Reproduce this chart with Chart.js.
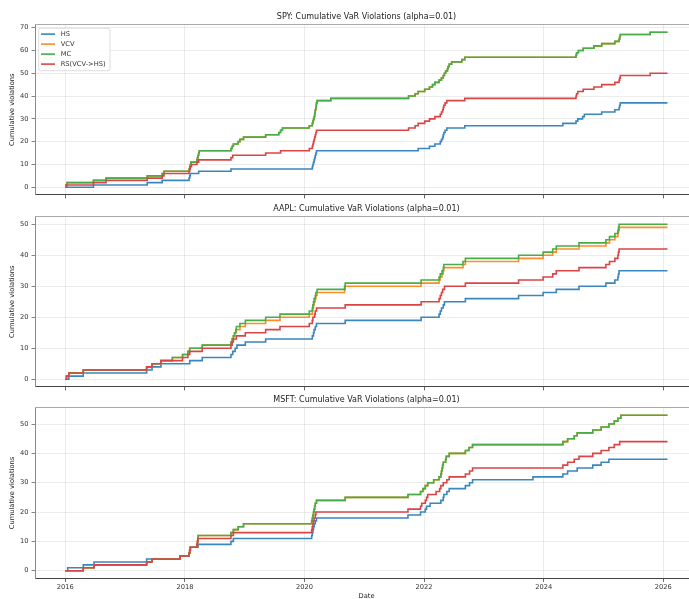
<!DOCTYPE html>
<html><head><meta charset="utf-8">
<script src="https://cdn.jsdelivr.net/npm/chart.js@4.4.0/dist/chart.umd.min.js"></script>
<style>
html,body{margin:0;padding:0;background:#fff;width:689px;height:599px;overflow:hidden;position:relative}
canvas{position:absolute;left:0}
</style></head><body>
<canvas id="c1" width="720" height="195" style="top:7px"></canvas>
<canvas id="c2" width="720" height="195" style="top:199px"></canvas>
<canvas id="c3" width="720" height="210" style="top:390px"></canvas>
<script>
// ---------------- data ----------------
const seriesNames = ['HS', 'VCV', 'MC', 'RS(VCV->HS)'];
const xTickYears = [2016, 2018, 2020, 2022, 2024, 2026];
const spyYTicks = [0, 10, 20, 30, 40, 50, 60, 70];
const aaplYTicks = [0, 10, 20, 30, 40, 50];
const msftYTicks = [0, 10, 20, 30, 40, 50];
const panelTitles = ['SPY: Cumulative VaR Violations (alpha=0.01)', 'AAPL: Cumulative VaR Violations (alpha=0.01)', 'MSFT: Cumulative VaR Violations (alpha=0.01)'];

const spyHS = [[2016.00,0],[2016.47,1],[2017.37,2],[2017.62,3],[2018.07,4],[2018.08,5],[2018.09,6],[2018.23,7],[2018.77,8],[2020.13,9],[2020.14,10],[2020.15,11],[2020.16,12],[2020.17,13],[2020.18,14],[2020.19,15],[2020.20,16],[2021.90,17],[2022.09,18],[2022.18,19],[2022.27,20],[2022.29,21],[2022.31,22],[2022.32,23],[2022.33,24],[2022.35,25],[2022.38,26],[2022.68,27],[2024.32,28],[2024.54,29],[2024.57,30],[2024.65,31],[2024.68,32],[2024.97,33],[2025.19,34],[2025.26,35],[2025.27,36],[2025.28,37],[2026.07,37]];
const spyMC = [[2016.00,0],[2016.01,1],[2016.03,2],[2016.47,3],[2016.68,4],[2017.37,5],[2017.62,6],[2017.65,7],[2018.07,8],[2018.08,9],[2018.09,10],[2018.10,11],[2018.20,12],[2018.21,13],[2018.22,14],[2018.23,15],[2018.24,16],[2018.77,17],[2018.79,18],[2018.81,19],[2018.89,20],[2018.92,21],[2018.98,22],[2019.35,23],[2019.57,24],[2019.60,25],[2019.63,26],[2020.08,27],[2020.13,28],[2020.14,29],[2020.15,30],[2020.16,31],[2020.17,32],[2020.175,33],[2020.18,34],[2020.19,35],[2020.195,36],[2020.20,37],[2020.21,38],[2020.44,39],[2021.74,40],[2021.85,41],[2021.90,42],[2022.01,43],[2022.09,44],[2022.14,45],[2022.18,46],[2022.25,47],[2022.29,48],[2022.32,49],[2022.34,50],[2022.36,51],[2022.39,52],[2022.40,53],[2022.42,54],[2022.46,55],[2022.63,56],[2022.68,57],[2024.54,58],[2024.55,59],[2024.58,60],[2024.66,61],[2024.84,62],[2024.97,63],[2025.19,64],[2025.26,65],[2025.27,66],[2025.28,67],[2025.78,68],[2026.07,68]];
const spyVCV = [[2016.00,0],[2016.01,1],[2016.03,2],[2016.47,3],[2016.68,4],[2017.37,5],[2017.62,6],[2017.65,7],[2018.07,8],[2018.08,9],[2018.09,10],[2018.10,11],[2018.20,12],[2018.21,13],[2018.22,14],[2018.23,15],[2018.24,16],[2018.77,17],[2018.79,18],[2018.81,19],[2018.89,20],[2018.92,21],[2018.98,22],[2019.35,23],[2019.57,24],[2019.60,25],[2019.63,26],[2020.08,27],[2020.13,28],[2020.14,29],[2020.15,30],[2020.16,31],[2020.17,32],[2020.175,33],[2020.18,34],[2020.19,35],[2020.195,36],[2020.20,37],[2020.21,38],[2020.44,39],[2021.74,40],[2021.85,41],[2021.90,42],[2022.01,43],[2022.09,44],[2022.14,45],[2022.18,46],[2022.25,47],[2022.29,48],[2022.32,49],[2022.34,50],[2022.36,51],[2022.39,52],[2022.40,53],[2022.42,54],[2022.46,55],[2022.63,56],[2022.68,57],[2024.54,58],[2024.55,59],[2024.58,60],[2024.66,61],[2024.84,62],[2024.97,63],[2025.19,64],[2025.26,65],[2025.27,66],[2025.28,67],[2025.78,68],[2026.07,68]];
const spyRS = [[2016.00,0],[2016.02,1],[2016.47,2],[2016.68,3],[2017.37,4],[2017.62,5],[2017.65,6],[2018.07,7],[2018.08,8],[2018.09,9],[2018.11,10],[2018.20,11],[2018.23,12],[2018.77,13],[2018.80,14],[2019.35,15],[2019.60,16],[2020.08,17],[2020.13,18],[2020.14,19],[2020.15,20],[2020.16,21],[2020.17,22],[2020.18,23],[2020.19,24],[2020.20,25],[2021.74,26],[2021.85,27],[2021.90,28],[2022.01,29],[2022.09,30],[2022.18,31],[2022.27,32],[2022.29,33],[2022.31,34],[2022.32,35],[2022.33,36],[2022.35,37],[2022.38,38],[2022.68,39],[2024.54,40],[2024.55,41],[2024.57,42],[2024.66,43],[2024.84,44],[2024.97,45],[2025.19,46],[2025.26,47],[2025.27,48],[2025.28,49],[2025.78,50],[2026.07,50]];

const aaplHS = [[2016.00,0],[2016.06,1],[2016.30,2],[2017.36,3],[2017.45,4],[2017.60,5],[2018.08,6],[2018.29,7],[2018.77,8],[2018.80,9],[2018.84,10],[2018.87,11],[2019.01,12],[2019.35,13],[2020.13,14],[2020.15,15],[2020.16,16],[2020.18,17],[2020.20,18],[2020.68,19],[2021.95,20],[2022.25,21],[2022.27,22],[2022.29,23],[2022.32,24],[2022.34,25],[2022.69,26],[2023.58,27],[2023.99,28],[2024.21,29],[2024.59,30],[2025.04,31],[2025.19,32],[2025.24,33],[2025.25,34],[2025.26,35],[2026.07,35]];
const aaplVCV = [[2016.00,0],[2016.02,1],[2016.06,2],[2016.30,3],[2017.36,4],[2017.45,5],[2017.60,6],[2017.79,7],[2017.96,8],[2018.05,9],[2018.08,10],[2018.29,11],[2018.77,12],[2018.79,13],[2018.81,14],[2018.83,15],[2018.86,16],[2018.92,17],[2019.01,18],[2019.35,19],[2019.59,20],[2020.08,21],[2020.13,22],[2020.14,23],[2020.15,24],[2020.16,25],[2020.18,26],[2020.19,27],[2020.21,28],[2020.67,29],[2020.68,30],[2021.95,31],[2022.25,32],[2022.27,33],[2022.30,34],[2022.32,35],[2022.33,36],[2022.65,37],[2022.69,38],[2023.58,39],[2023.99,40],[2024.15,41],[2024.21,42],[2024.59,43],[2025.04,44],[2025.10,45],[2025.19,46],[2025.24,47],[2025.25,48],[2025.26,49],[2026.07,49]];
const aaplMC = [[2016.00,0],[2016.02,1],[2016.06,2],[2016.30,3],[2017.36,4],[2017.45,5],[2017.60,6],[2017.79,7],[2017.96,8],[2018.05,9],[2018.08,10],[2018.29,11],[2018.77,12],[2018.79,13],[2018.81,14],[2018.83,15],[2018.85,16],[2018.86,17],[2018.92,18],[2019.01,19],[2019.35,20],[2019.59,21],[2020.08,22],[2020.13,23],[2020.14,24],[2020.15,25],[2020.16,26],[2020.18,27],[2020.19,28],[2020.21,29],[2020.67,30],[2020.68,31],[2021.95,32],[2022.25,33],[2022.27,34],[2022.30,35],[2022.32,36],[2022.33,37],[2022.65,38],[2022.69,39],[2023.58,40],[2023.99,41],[2024.15,42],[2024.21,43],[2024.59,44],[2025.04,45],[2025.10,46],[2025.19,47],[2025.24,48],[2025.25,49],[2025.26,50],[2026.07,50]];
const aaplRS = [[2016.00,0],[2016.02,1],[2016.06,2],[2016.30,3],[2017.36,4],[2017.45,5],[2017.60,6],[2017.96,7],[2018.05,8],[2018.08,9],[2018.29,10],[2018.77,11],[2018.79,12],[2018.81,13],[2018.86,14],[2019.01,15],[2019.35,16],[2019.59,17],[2020.08,18],[2020.13,19],[2020.14,20],[2020.17,21],[2020.18,22],[2020.20,23],[2020.68,24],[2021.95,25],[2022.25,26],[2022.27,27],[2022.29,28],[2022.31,29],[2022.34,30],[2022.69,31],[2023.58,32],[2023.99,33],[2024.15,34],[2024.21,35],[2024.59,36],[2025.04,37],[2025.10,38],[2025.19,39],[2025.24,40],[2025.25,41],[2025.26,42],[2026.07,42]];

const msftHS = [[2016.00,0],[2016.04,1],[2016.30,2],[2016.48,3],[2017.36,4],[2017.92,5],[2018.07,6],[2018.08,7],[2018.09,8],[2018.22,9],[2018.77,10],[2018.81,11],[2020.12,12],[2020.13,13],[2020.14,14],[2020.15,15],[2020.16,16],[2020.18,17],[2020.20,18],[2021.73,19],[2021.94,20],[2022.02,21],[2022.04,22],[2022.10,23],[2022.28,24],[2022.32,25],[2022.33,26],[2022.38,27],[2022.42,28],[2022.69,29],[2022.76,30],[2022.81,31],[2023.82,32],[2024.32,33],[2024.40,34],[2024.56,35],[2024.82,36],[2024.96,37],[2025.09,38],[2026.07,38]];
const msftMC = [[2016.00,0],[2016.30,1],[2016.48,2],[2017.36,3],[2017.45,4],[2017.92,5],[2018.07,6],[2018.08,7],[2018.09,8],[2018.20,9],[2018.21,10],[2018.215,11],[2018.22,12],[2018.77,13],[2018.81,14],[2018.89,15],[2018.98,16],[2020.12,17],[2020.13,18],[2020.14,19],[2020.15,20],[2020.16,21],[2020.17,22],[2020.18,23],[2020.20,24],[2020.68,25],[2021.73,26],[2021.94,27],[2021.98,28],[2022.02,29],[2022.06,30],[2022.16,31],[2022.25,32],[2022.28,33],[2022.29,34],[2022.30,35],[2022.31,36],[2022.32,37],[2022.36,38],[2022.37,39],[2022.42,40],[2022.69,41],[2022.75,42],[2022.81,43],[2024.32,44],[2024.40,45],[2024.51,46],[2024.56,47],[2024.82,48],[2024.96,49],[2025.09,50],[2025.18,51],[2025.24,52],[2025.29,53],[2026.07,53]];
const msftVCV = [[2016.00,0],[2016.30,1],[2016.48,2],[2017.36,3],[2017.45,4],[2017.92,5],[2018.07,6],[2018.08,7],[2018.09,8],[2018.20,9],[2018.21,10],[2018.215,11],[2018.22,12],[2018.77,13],[2018.81,14],[2018.89,15],[2018.98,16],[2020.12,17],[2020.13,18],[2020.14,19],[2020.15,20],[2020.16,21],[2020.17,22],[2020.18,23],[2020.20,24],[2020.68,25],[2021.73,26],[2021.94,27],[2021.98,28],[2022.02,29],[2022.06,30],[2022.16,31],[2022.25,32],[2022.28,33],[2022.29,34],[2022.30,35],[2022.31,36],[2022.32,37],[2022.36,38],[2022.37,39],[2022.42,40],[2022.69,41],[2022.75,42],[2022.81,43],[2024.32,44],[2024.40,45],[2024.51,46],[2024.56,47],[2024.82,48],[2024.96,49],[2025.09,50],[2025.18,51],[2025.24,52],[2025.29,53],[2026.07,53]];
const msftRS = [[2016.00,0],[2016.30,1],[2016.48,2],[2017.36,3],[2017.45,4],[2017.92,5],[2018.07,6],[2018.08,7],[2018.09,8],[2018.20,9],[2018.21,10],[2018.22,11],[2018.77,12],[2018.81,13],[2020.12,14],[2020.13,15],[2020.14,16],[2020.15,17],[2020.16,18],[2020.18,19],[2020.19,20],[2021.73,21],[2021.94,22],[2021.96,23],[2022.02,24],[2022.04,25],[2022.06,26],[2022.20,27],[2022.26,28],[2022.28,29],[2022.32,30],[2022.38,31],[2022.42,32],[2022.69,33],[2022.76,34],[2022.81,35],[2024.32,36],[2024.40,37],[2024.51,38],[2024.59,39],[2024.82,40],[2024.96,41],[2025.09,42],[2025.18,43],[2025.27,44],[2026.07,44]];

// ---------------- styling ----------------
const COLORS = ['#3a87bf', '#ff8c26', '#47ad47', '#db4444'];
const FONT = 'DejaVu Sans';
const X_MIN = 2015.493, X_MAX = 2026.58;

const frame = {
  id: 'frame',
  afterDraw(chart, args, opts) {
    const ctx = chart.ctx, a = chart.chartArea;
    ctx.save();
    ctx.strokeStyle = '#aaaaaa';
    ctx.lineWidth = 1.2;
    ctx.beginPath(); ctx.moveTo(a.left, a.top); ctx.lineTo(a.right, a.top); ctx.stroke();
    if (opts && opts.legend) {
      const x0 = a.left + 3.7, y0 = a.top + 3.8, w = 71.3, h = 42.4, r = 2;
      ctx.fillStyle = 'rgba(255,255,255,0.85)';
      ctx.strokeStyle = '#d4d4d4'; ctx.lineWidth = 0.8;
      ctx.beginPath();
      ctx.moveTo(x0 + r, y0); ctx.lineTo(x0 + w - r, y0); ctx.quadraticCurveTo(x0 + w, y0, x0 + w, y0 + r);
      ctx.lineTo(x0 + w, y0 + h - r); ctx.quadraticCurveTo(x0 + w, y0 + h, x0 + w - r, y0 + h);
      ctx.lineTo(x0 + r, y0 + h); ctx.quadraticCurveTo(x0, y0 + h, x0, y0 + h - r);
      ctx.lineTo(x0, y0 + r); ctx.quadraticCurveTo(x0, y0, x0 + r, y0);
      ctx.closePath(); ctx.fill(); ctx.stroke();
      ctx.font = '6.7px "' + FONT + '"';
      ctx.textBaseline = 'middle'; ctx.textAlign = 'left';
      seriesNames.forEach((name, i) => {
        const ds = chart.data.datasets.find(d => d.label === name);
        const yy = a.top + 9.6 + i * 10;
        ctx.strokeStyle = ds.borderColor; ctx.lineWidth = 1.6;
        ctx.beginPath(); ctx.moveTo(a.left + 6, yy); ctx.lineTo(a.left + 20, yy); ctx.stroke();
        ctx.fillStyle = '#333';
        ctx.fillText(ds.label, a.left + 25.7, yy);
      });
    }
    ctx.restore();
  }
};

function makePanel(canvasId, title, data, yMin, yMax, yTicks, isBottom, withLegend) {
  const order = [3, 2, 1, 0];
  const datasets = data.map((pts, i) => ({
    label: seriesNames[i],
    data: pts.map(p => ({x: p[0], y: p[1]})),
    borderColor: COLORS[i],
    backgroundColor: COLORS[i],
    borderWidth: 1.6,
    pointRadius: 0,
    stepped: 'before',
    fill: false,
    order: order[i]
  }));
  return new Chart(document.getElementById(canvasId), {
    type: 'line',
    data: {datasets},
    plugins: [frame],
    options: {
      responsive: false,
      animation: false,
      events: [],
      layout: {padding: {left: 0, right: 22, top: 0, bottom: 0}},
      plugins: {
        legend: {display: false},
        tooltip: {enabled: false},
        frame: {legend: withLegend},
        title: {
          display: true, text: title, fullSize: false,
          color: '#222', font: {family: FONT, size: 8, weight: 'normal'},
          padding: {top: 5.5, bottom: 2.4}
        }
      },
      scales: {
        x: {
          type: 'linear', min: X_MIN, max: X_MAX,
          afterBuildTicks: s => { s.ticks = xTickYears.map(v => ({value: v})); },
          afterFit: s => { s.height = isBottom ? 21.5 : 6.5; },
          grid: {color: 'rgba(176,176,176,0.3)', lineWidth: 0.8, drawTicks: true, tickLength: 3.5, tickColor: '#444', tickWidth: 0.8},
          border: {display: true, color: '#444', width: 1},
          ticks: {
            autoSkip: false, maxRotation: 0, padding: 1.7,
            color: '#333', font: {family: FONT, size: 6.7},
            callback: v => isBottom ? String(v) : ''
          },
          title: {display: isBottom, text: 'Date', color: '#222', font: {family: FONT, size: 6.7}, padding: {top: 0, bottom: 0}}
        },
        y: {
          type: 'linear', min: yMin, max: yMax,
          afterBuildTicks: s => { s.ticks = yTicks.map(v => ({value: v})); },
          afterFit: s => { s.width = 35; },
          grid: {color: 'rgba(176,176,176,0.3)', lineWidth: 0.8, drawTicks: true, tickLength: 3.5, tickColor: '#666', tickWidth: 0.8},
          border: {display: true, color: '#8a8a8a', width: 1},
          ticks: {padding: 3, color: '#333', font: {family: FONT, size: 6.7}, callback: v => String(v)},
          title: {display: true, text: 'Cumulative violations', color: '#222', font: {family: FONT, size: 6.7}, padding: {top: 8.2, bottom: 0}}
        }
      }
    }
  });
}

makePanel('c1', panelTitles[0], [spyHS, spyVCV, spyMC, spyRS], -3.4, 71.4, spyYTicks, false, true);
makePanel('c2', panelTitles[1], [aaplHS, aaplVCV, aaplMC, aaplRS], -2.5, 52.5, aaplYTicks, false, false);
makePanel('c3', panelTitles[2], [msftHS, msftVCV, msftMC, msftRS], -2.65, 55.65, msftYTicks, true, false);
</script>
</body></html>
